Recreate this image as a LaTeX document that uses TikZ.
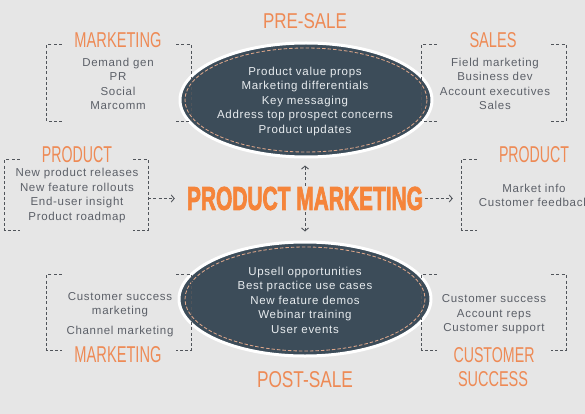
\documentclass[tikz,border=0pt]{standalone}
\usepackage{fontspec}
\usepackage{graphicx}
\usetikzlibrary{shapes.geometric,arrows.meta}
\setmainfont{Liberation Sans}
\newfontfamily\bodyfont[LetterSpace=6]{Liberation Sans}
\newfontfamily\headfont{Liberation Sans}
\newfontfamily\bigfont{Liberation Sans}[BoldFeatures={FakeBold=3}]
\definecolor{bg}{HTML}{E6E6E6}
\definecolor{hd}{HTML}{EE8A55}
\definecolor{pmc}{HTML}{F5843A}
\definecolor{ell}{HTML}{3C4C59}
\definecolor{stitch}{HTML}{DDA68A}
\definecolor{txt}{HTML}{5C6068}
\definecolor{etxt}{HTML}{E8ECEF}
\definecolor{dashc}{HTML}{50545A}
\newcommand\hdtext[3]{\resizebox{#1pt}{#2pt}{\headfont #3}}
\newcommand\lbrk[1]{\draw[bracket] ([xshift=15pt]#1.north west) -- (#1.north west) -- (#1.south west) -- ([xshift=15pt]#1.south west);}
\newcommand\rbrk[1]{\draw[bracket] ([xshift=-15pt]#1.north east) -- (#1.north east) -- (#1.south east) -- ([xshift=-15pt]#1.south east);}
\begin{document}
\begin{tikzpicture}[x=1pt,y=-1pt,
  heading/.style={inner sep=0pt, text=hd},
  body/.style={inner sep=0pt, text=txt, font=\bodyfont\fontsize{11.5}{14.5}\selectfont, align=center},
  etext/.style={body, text=etxt},
  grp/.style={inner sep=0pt, minimum width=144pt, minimum height=76pt},
  bracket/.style={draw=dashc, line width=0.9pt, dash pattern=on 3pt off 2.2pt},
  oval/.style={ellipse, draw=white, line width=3pt, fill=ell, minimum width=252pt, minimum height=114pt, inner sep=0pt},
  stitchline/.style={draw=stitch, line width=0.85pt, dash pattern=on 3.5pt off 2pt},
  arr/.style={draw=dashc, line width=0.9pt, dash pattern=on 3pt off 2.2pt, -{Straight Barb[length=3pt,width=7pt]}}
]
\useasboundingbox (0,0) rectangle (585,414);
\clip (0,0) rectangle (585,414);
\fill[bg] (0,0) rectangle (585,414);

% ellipses
\node[oval] (pre) at (306,100) {};
\draw[stitchline] (pre.center) ellipse [x radius=121, y radius=52];
\node[etext] (pretext) at (305,101.5) {Product value props\\Marketing differentials\\Key messaging\\Address top prospect concerns\\Product updates};
\node[oval] (post) at (305,299) {};
\draw[stitchline] (post.center) ellipse [x radius=120, y radius=52];
\node[etext] (posttext) at (305,300) {Upsell opportunities\\Best practice use cases\\New feature demos\\Webinar training\\User events};

% titles
\node[heading] (presale) at (305,21) {\hdtext{84}{15}{PRE-SALE}};
\node[heading] (postsale) at (305,380) {\hdtext{96}{16}{POST-SALE}};
\node[inner sep=0pt, text=pmc] (pm) at (305,198.5) {\resizebox{236pt}{23pt}{\bigfont\bfseries PRODUCT MARKETING}};

% group boxes
\node[grp] (mk1) at (119,83) {};
\node[grp] (sales) at (494,83) {};
\node[grp, minimum width=143pt, minimum height=70pt] (prodL) at (76.5,195) {};
\node[grp, minimum height=70pt] (prodR) at (534,195) {};
\node[grp, minimum height=75pt] (mk2) at (119,312.5) {};
\node[grp, minimum height=75pt] (cs) at (494,312.5) {};
\lbrk{mk1}\rbrk{mk1}
\lbrk{sales}\rbrk{sales}
\lbrk{prodL}\rbrk{prodL}
\lbrk{prodR}
\lbrk{mk2}\rbrk{mk2}
\lbrk{cs}\rbrk{cs}

% headings
\node[heading] (mk1h) at (118,40) {\hdtext{87}{15}{MARKETING}};
\node[heading] (salesh) at (493,40) {\hdtext{47}{15}{SALES}};
\node[heading] (prodLh) at (77,155) {\hdtext{70}{16}{PRODUCT}};
\node[heading] (prodRh) at (534,155) {\hdtext{70}{16}{PRODUCT}};
\node[heading] (mk2h) at (118,355) {\hdtext{87}{16}{MARKETING}};
\node[heading] (csh1) at (494,355.5) {\hdtext{81}{15}{CUSTOMER}};
\node[heading] (csh2) at (493,379.5) {\hdtext{70}{15}{SUCCESS}};

% texts
\node[body] (mk1t) at (118,84) {Demand gen\\PR\\Social\\Marcomm};
\node[body] (salest) at (495,84) {Field marketing\\Business dev\\Account executives\\Sales};
\node[body] (prodLt) at (77,195.5) {New product releases\\New feature rollouts\\End-user insight\\Product roadmap};
\node[body] (prodRt) at (534,195.5) {Market info\\Customer feedback};
\node[body] (mk2t) at (120,304.5) {Customer success\\marketing};
\node[body] (mk2t2) at (120,332) {Channel marketing};
\node[body] (cst) at (494,314.5) {Customer success\\Account reps\\Customer support};

% arrows
\draw[arr, shorten >=12pt] (prodL.east |- pm.west) -- (pm.west);
\draw[arr, shorten <=2pt, shorten >=9pt] (pm.east) -- (prodR.west |- pm.east);
\draw[arr, shorten <=1pt, shorten >=7pt] (pm.north) -- (pm.north |- pre.south);
\draw[arr, shorten <=2pt, shorten >=9pt] (pm.south) -- (pm.south |- post.north);
\end{tikzpicture}
\end{document}
